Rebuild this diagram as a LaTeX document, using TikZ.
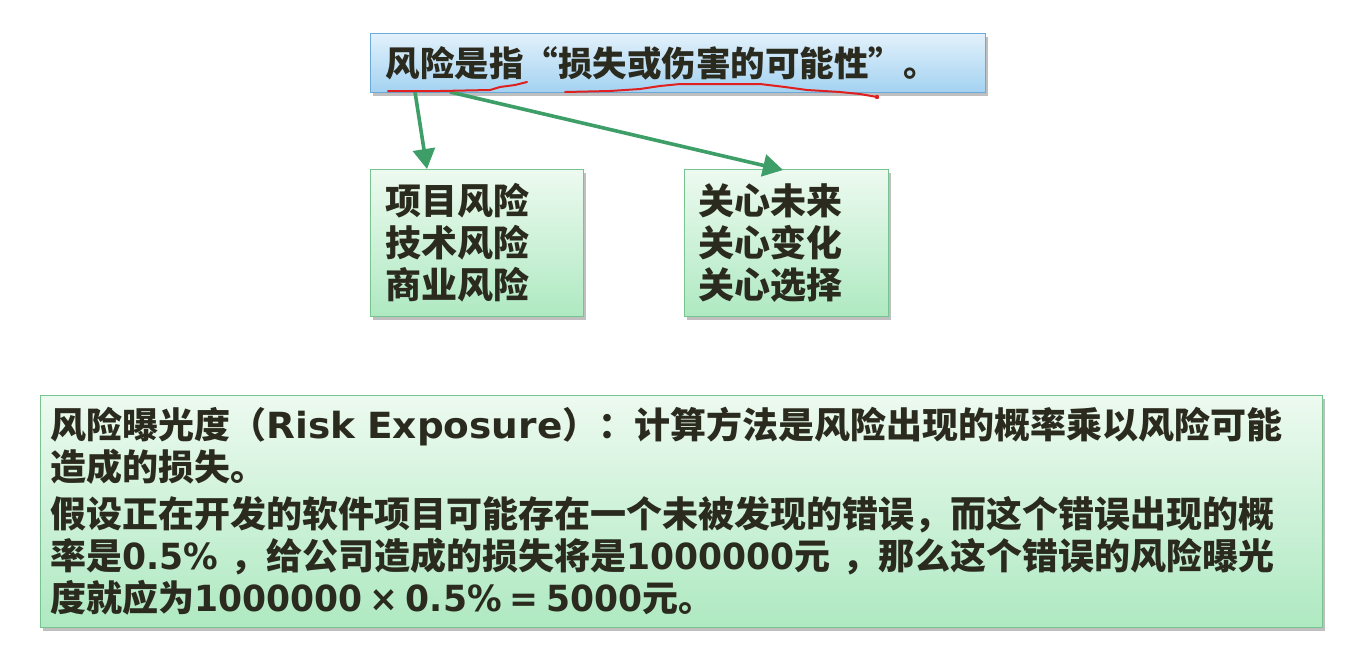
\documentclass[tikz,border=0pt]{standalone}
\usepackage{fontspec}
\setmainfont{Noto Sans CJK SC}
\newfontfamily\latw{DejaVu Sans}[FakeStretch=1.04]
\newfontfamily\latn{DejaVu Sans}[FakeStretch=0.96]
\usetikzlibrary{arrows.meta,shadows}

\definecolor{ink}{HTML}{2A2A1E}
\definecolor{blueTop}{HTML}{E2F1FB}
\definecolor{blueBot}{HTML}{A3D2F1}
\definecolor{blueEdge}{HTML}{6AAAD8}
\definecolor{greenTop}{HTML}{EDFAF0}
\definecolor{greenBot}{HTML}{AEE9C1}
\definecolor{greenEdge}{HTML}{78C48F}
\definecolor{arrowGreen}{HTML}{3E9E68}
\definecolor{penRed}{HTML}{E0201E}

% Latin words and figures set in a wide bold sans
\newcommand{\latword}[1]{{\latw\bfseries #1}}
\newcommand{\latnum}[1]{{\latn\bfseries #1}}

\tikzset{
  panel/.style={rectangle, anchor=north west, align=left, text=ink,
    font=\bfseries, line width=1.2pt,
    drop shadow={shadow xshift=2pt, shadow yshift=-3pt, fill=black, opacity=0.25}},
  bluepanel/.style={panel, draw=blueEdge, top color=blueTop, bottom color=blueBot},
  greenpanel/.style={panel, draw=greenEdge, top color=greenTop, bottom color=greenBot},
  link/.style={draw=arrowGreen, line width=3.6pt,
    -{Triangle[length=20pt, width=22pt]}},
  pen/.style={draw=penRed, line width=2pt, line cap=round, line join=round}
}

\begin{document}
\begin{tikzpicture}[x=1pt, y=-1pt]
  \fill[white] (0,0) rectangle (1358,649);
  \useasboundingbox (0,0) rectangle (1358,649);

  % definition box
  \node[bluepanel, minimum width=615pt, minimum height=59pt, text width=585pt,
        inner xsep=15pt, inner ysep=0pt, font=\bfseries\fontsize{34.5}{38}\selectfont]
    (def) at (370,33) {风险是指“损失或伤害的可能性”。};

  % kinds of risk
  \node[greenpanel, minimum width=213pt, minimum height=147pt, text width=183pt,
        inner xsep=15pt, inner ysep=0pt, font=\bfseries\fontsize{36}{42}\selectfont]
    (kinds) at (370,169) {项目风险\\技术风险\\商业风险};

  % concerns
  \node[greenpanel, minimum width=204pt, minimum height=147pt, text width=176pt,
        inner xsep=14pt, inner ysep=0pt, font=\bfseries\fontsize{36}{42}\selectfont]
    (cares) at (684,169) {关心未来\\关心变化\\关心选择};

  % risk exposure explanation
  \node[greenpanel, minimum width=1282pt, minimum height=232pt, text width=1262pt,
        inner xsep=10pt, inner ysep=0pt, font=\bfseries\fontsize{36}{42}\selectfont]
    (exposure) at (40,395)
    {风险曝光度（\latword{Risk Exposure}）：计算方法是风险出现的概率乘以风险可能\\
     造成的损失。\\[5pt]
     假设正在开发的软件项目可能存在一个未被发现的错误，而这个错误出现的概\\
     率是\latnum{0.5\%}\hspace{12pt}，给公司造成的损失将是\latnum{1000000}元\hspace{12pt}，那么这个错误的风险曝光\\
     度就应为\latnum{1000000\hspace{7pt}×\hspace{7pt}0.5\%\hspace{8pt}=\hspace{8pt}5000}元。};

  % arrows from the definition
  \coordinate (s1) at (415,92);
  \coordinate (e1) at (427,169);
  \coordinate (s2) at (450,92);
  \coordinate (e2) at (783,170);
  \draw[link] (s1) -- (e1);
  \draw[link] (s2) -- (e2);

  % hand-drawn underlines
  \draw[pen] (388,91) -- (440,91) -- (490,90) -- (500,87) -- (515,85) -- (527,82);
  \draw[pen] (565,92) -- (610,91) -- (640,89) -- (660,86) -- (680,84)
    -- (760,84) -- (785,87) -- (807,90) -- (840,92) -- (860,94) -- (877,97);
  \fill[penRed] (877,97) circle (2.2pt);
\end{tikzpicture}
\end{document}
